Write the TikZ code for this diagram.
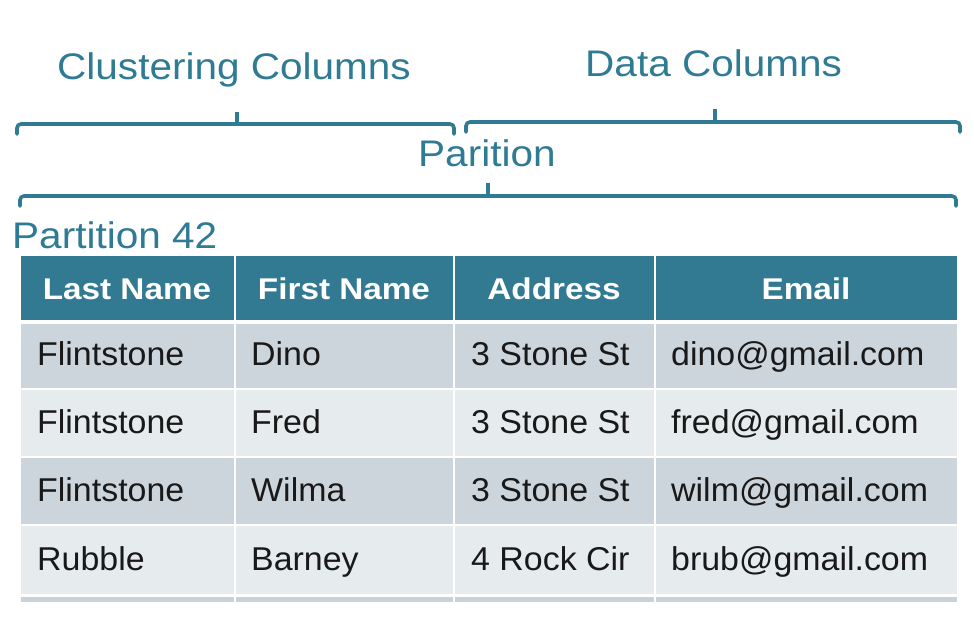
\documentclass[tikz,border=0pt]{standalone}
\usepackage{fontspec}
\setmainfont{Liberation Sans}
\definecolor{teal1}{HTML}{2E7B93}
\definecolor{hdr}{HTML}{327A92}
\definecolor{rowdark}{HTML}{CDD5DC}
\definecolor{rowlight}{HTML}{E6EBEE}
\definecolor{strip}{HTML}{C9D2DA}
\tikzset{
  lbl/.style={anchor=base west, inner sep=0pt, text=teal1, font=\fontsize{37}{44}\selectfont, xscale=1.095},
  bracepath/.style={draw=teal1, line width=3.6pt, rounded corners=4pt, line cap=round},
  cellbg/.style={fill=#1, draw=white, line width=2.6pt},
  hdtext/.style={text=white, inner sep=0pt, anchor=base, font=\bfseries\fontsize{30}{36}\selectfont, xscale=1.11},
  bodytext/.style={text=black!90, inner sep=0pt, anchor=base west, font=\fontsize{33}{40}\selectfont, xscale=1.028},
}
\begin{document}
\begin{tikzpicture}[x=1pt,y=-1pt]
\useasboundingbox (0,0) rectangle (974,618);
\fill[white] (0,0) rectangle (974,618);

% labels
\node[lbl] (cc) at (57,80) {Clustering Columns};
\node[lbl] (dc) at (585,76) {Data Columns};
\node[lbl] (pa) at (418,166) {Parition};
\node[lbl] (p42) at (12,248) {Partition 42};

% braces
\draw[bracepath] (17,134) -- (17,124) -- (454,124) -- (454,134);
\draw[teal1, line width=3.6pt] (237,125) -- (237,112);
\draw[bracepath] (466,132) -- (466,122) -- (960,122) -- (960,132);
\draw[teal1, line width=3.6pt] (715,123) -- (715,109);
\draw[bracepath] (20,206) -- (20,196) -- (956,196) -- (956,206);
\draw[teal1, line width=3.6pt] (488,197) -- (488,183);

% header
\path[cellbg=hdr] (20,255) rectangle (235,321);
\path[cellbg=hdr] (235,255) rectangle (454,321);
\path[cellbg=hdr] (454,255) rectangle (655,321);
\path[cellbg=hdr] (655,255) rectangle (958,321);
\node[hdtext] (h1) at (127,299) {Last Name};
\node[hdtext] (h2) at (344,299) {First Name};
\node[hdtext] (h3) at (554,299) {Address};
\node[hdtext] (h4) at (806,299) {Email};

% body rows
\foreach \ya/\yb/\c in {323/389/rowdark, 389/457/rowlight, 457/525/rowdark, 525/595/rowlight}{
  \path[cellbg=\c] (20,\ya) rectangle (235,\yb);
  \path[cellbg=\c] (235,\ya) rectangle (454,\yb);
  \path[cellbg=\c] (454,\ya) rectangle (655,\yb);
  \path[cellbg=\c] (655,\ya) rectangle (958,\yb);
}
\foreach \xa/\xb in {20/235, 235/454, 454/655, 655/958}{
  \fill[strip] (\xa+1.3,597) rectangle (\xb-1.3,602);
}

\node[bodytext] (r1a) at (37,365) {Flintstone};
\node[bodytext] (r1b) at (251,365) {Dino};
\node[bodytext] (r1c) at (471,365) {3 Stone St};
\node[bodytext] (r1d) at (671,365) {dino@gmail.com};

\node[bodytext] (r2a) at (37,433) {Flintstone};
\node[bodytext] (r2b) at (251,433) {Fred};
\node[bodytext] (r2c) at (471,433) {3 Stone St};
\node[bodytext] (r2d) at (671,433) {fred@gmail.com};

\node[bodytext] (r3a) at (37,501) {Flintstone};
\node[bodytext] (r3b) at (251,501) {Wilma};
\node[bodytext] (r3c) at (471,501) {3 Stone St};
\node[bodytext] (r3d) at (671,501) {wilm@gmail.com};

\node[bodytext] (r4a) at (37,570) {Rubble};
\node[bodytext] (r4b) at (251,570) {Barney};
\node[bodytext] (r4c) at (471,570) {4 Rock Cir};
\node[bodytext] (r4d) at (671,570) {brub@gmail.com};
\end{tikzpicture}
\end{document}
